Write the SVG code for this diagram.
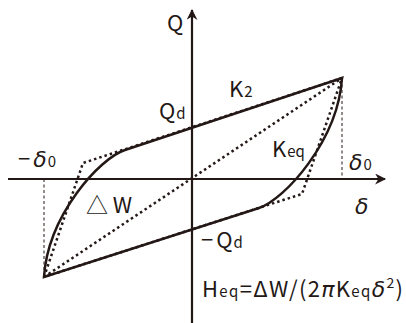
<svg xmlns="http://www.w3.org/2000/svg" width="406" height="323" viewBox="0 0 406 323">
<defs>
<marker id="arr" viewBox="0 0 10 10" refX="9" refY="5" markerWidth="6" markerHeight="5" orient="auto" markerUnits="strokeWidth">
<path d="M0,0 L10,5 L0,10 L3,5 Z" fill="#231815"/>
</marker>
<style>
.ax{stroke:#231815;stroke-width:2.2;fill:none}
.solid{stroke:#231815;stroke-width:2.5;fill:none}
.dot{stroke:#231815;stroke-width:2.5;fill:none;stroke-dasharray:2.5 3}
.thin{stroke:#231815;stroke-width:1;fill:none;stroke-dasharray:3 2.5}
.t{font-family:"Noto Sans CJK JP","Liberation Sans",sans-serif;fill:#231815;font-size:22px}
.s{font-size:15px}
.d{font-style:italic;font-family:"DejaVu Sans","Liberation Sans",sans-serif}
</style>
</defs>
<g id="connectors">
<line class="ax" x1="8" y1="179" x2="385" y2="179" marker-end="url(#arr)"/>
<line class="ax" x1="192" y1="323" x2="192" y2="10" marker-end="url(#arr)"/>
<line class="thin" x1="342" y1="79" x2="342" y2="179" stroke="#777"/>
<line class="thin" x1="44" y1="179" x2="44" y2="276"/>
<path class="dot" d="M342,78 L83,163 L44,277 L302,194 Z"/>
<line class="dot" x1="44" y1="277" x2="342" y2="78"/>
<path class="solid" d="M342,78 L125,150 C100,158 48,215 44,277 L259,208 C284,200 338,141 342,78"/>
</g>
<g id="labels">
<text class="t" x="167" y="31">Q</text>
<text class="t" x="229" y="97">K<tspan class="s" dx="1">2</tspan></text>
<text class="t" x="159" y="119">Q<tspan class="s" dx="1">d</tspan></text>
<text class="t" x="18" y="167">−<tspan class="d" dx="3">δ</tspan><tspan class="s" dx="1">0</tspan></text>
<text class="t" x="272" y="157">K<tspan class="s" dx="1">eq</tspan></text>
<text class="t" x="349" y="170"><tspan class="d">δ</tspan><tspan class="s" dx="1">0</tspan></text>
<text class="t d" x="355" y="214">δ</text>
<text class="t" x="86" y="213" textLength="46">△ W</text>
<text class="t" x="201" y="248">−<tspan dx="3">Q</tspan><tspan class="s" dx="1">d</tspan></text>
<text class="t" x="202" y="297" font-size="24" textLength="201">H<tspan class="s">eq</tspan>=ΔW/(2<tspan class="d">π</tspan>K<tspan class="s">eq</tspan><tspan class="d">δ</tspan><tspan font-size="14" dy="-9">2</tspan><tspan dy="9">)</tspan></text>
</g>
</svg>
